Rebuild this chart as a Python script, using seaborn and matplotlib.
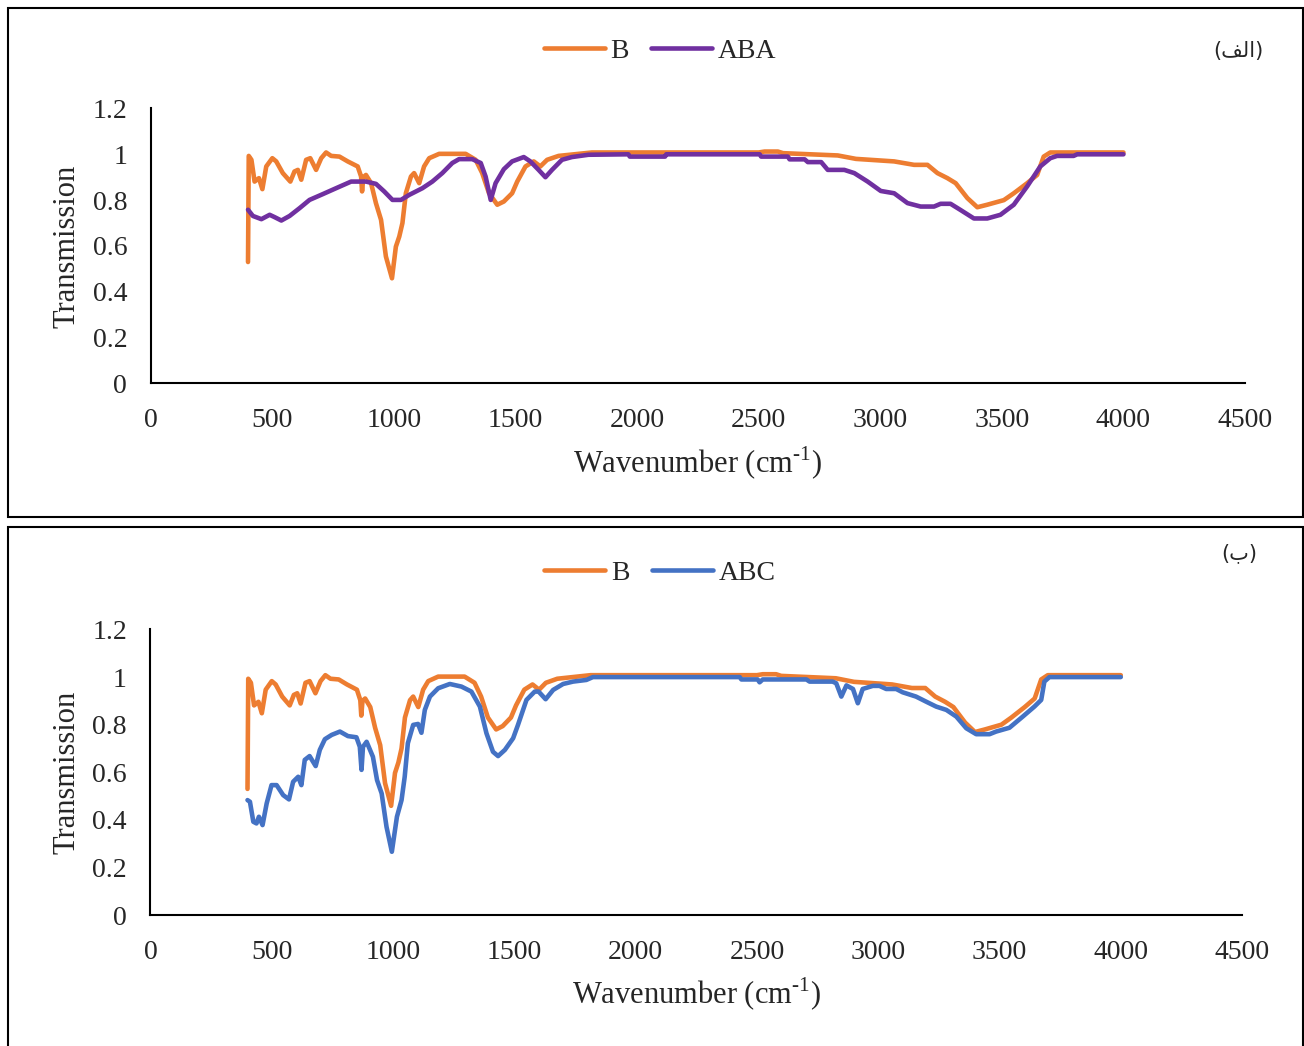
import numpy as np
import pandas as pd
import matplotlib
matplotlib.use("Agg")
import matplotlib.pyplot as plt
from matplotlib.patches import Rectangle
import seaborn as sns

# FTIR spectra
b_wn = [400, 403, 414, 427, 445, 459, 475, 500, 516, 543, 574, 591, 605, 619, 639, 656, 680, 701,
        721, 742, 776, 810, 851, 865, 869, 874, 885, 906, 926, 947, 967, 992, 1008, 1022, 1035, 1049,
        1070, 1083, 1104, 1124, 1145, 1186, 1295, 1336, 1363, 1391, 1425, 1452, 1486, 1507, 1541,
        1575, 1602, 1630, 1677, 1814, 2500, 2524, 2579, 2600, 2825, 2900, 3057, 3139, 3194, 3235,
        3276, 3310, 3358, 3399, 3440, 3508, 3549, 3604, 3645, 3672, 3699, 4000]
b_tr = [0.53, 0.993, 0.976, 0.881, 0.896, 0.848, 0.947, 0.983, 0.969, 0.918, 0.881, 0.925, 0.932,
        0.889, 0.976, 0.983, 0.932, 0.983, 1.008, 0.993, 0.99, 0.969, 0.947, 0.903, 0.838, 0.90,
        0.91, 0.874, 0.787, 0.714, 0.554, 0.459, 0.597, 0.641, 0.70, 0.83, 0.903, 0.918, 0.874,
        0.947, 0.983, 1.002, 1.002, 0.976, 0.918, 0.83, 0.78, 0.794, 0.83, 0.881, 0.947, 0.969,
        0.947, 0.976, 0.993, 1.008, 1.008, 1.012, 1.012, 1.005, 0.995, 0.98, 0.969, 0.954, 0.954,
        0.918, 0.896, 0.874, 0.809, 0.769, 0.78, 0.80, 0.83, 0.874, 0.91, 0.99, 1.008, 1.008]

aba_wn = [400, 420, 455, 489, 509, 537, 571, 612, 653, 707, 762, 824, 885, 926, 960, 994, 1029,
          1063, 1117, 1158, 1199, 1240, 1268, 1322, 1357, 1377, 1398, 1418, 1452, 1486, 1534, 1561,
          1595, 1623, 1650, 1691, 1732, 1800, 1964, 1970, 2115, 2120, 2504, 2510, 2620, 2627, 2689,
          2702, 2757, 2784, 2852, 2893, 2948, 3002, 3057, 3112, 3166, 3221, 3248, 3289, 3330, 3385,
          3440, 3494, 3549, 3604, 3658, 3699, 3727, 3795, 3810, 4000]
aba_tr = [0.758, 0.731, 0.717, 0.736, 0.726, 0.711, 0.731, 0.765, 0.801, 0.826, 0.852, 0.881,
          0.881, 0.871, 0.838, 0.801, 0.801, 0.823, 0.852, 0.881, 0.918, 0.962, 0.979, 0.979,
          0.962, 0.903, 0.801, 0.874, 0.935, 0.969, 0.988, 0.969, 0.932, 0.90, 0.932, 0.976,
          0.988, 0.998, 1.0, 0.99, 0.99, 1.0, 1.0, 0.99, 0.99, 0.978, 0.978, 0.966, 0.966, 0.932,
          0.932, 0.918, 0.881, 0.84, 0.83, 0.787, 0.772, 0.772, 0.784, 0.784, 0.757, 0.72, 0.72,
          0.736, 0.78, 0.86, 0.947, 0.983, 0.993, 0.993, 1.0, 1.0]

abc_wn = [400, 410, 424, 437, 447, 462, 479, 499, 520, 547, 571, 588, 609, 622, 636, 656, 681, 698,
          719, 747, 781, 814, 849, 863, 870, 876, 891, 917, 934, 953, 973, 995, 1016, 1035, 1048,
          1061, 1083, 1103, 1117, 1131, 1152, 1186, 1234, 1282, 1323, 1358, 1385, 1412, 1433, 1461,
          1495, 1515, 1550, 1584, 1600, 1629, 1660, 1701, 1742, 1797, 1824, 2429, 2436, 2503, 2511,
          2524, 2704, 2717, 2812, 2827, 2848, 2869, 2896, 2916, 2936, 2978, 3005, 3033, 3074, 3101,
          3156, 3197, 3239, 3281, 3322, 3363, 3404, 3459, 3486, 3541, 3596, 3644, 3672, 3685, 3706,
          4000]
abc_tr = [0.483, 0.476, 0.392, 0.385, 0.413, 0.378, 0.469, 0.546, 0.546, 0.504, 0.486, 0.56,
          0.581, 0.546, 0.652, 0.668, 0.626, 0.694, 0.739, 0.757, 0.771, 0.752, 0.747, 0.707,
          0.61, 0.707, 0.728, 0.665, 0.567, 0.511, 0.371, 0.266, 0.413, 0.483, 0.581, 0.722,
          0.799, 0.803, 0.766, 0.862, 0.918, 0.953, 0.971, 0.96, 0.939, 0.876, 0.764, 0.686,
          0.668, 0.694, 0.743, 0.799, 0.904, 0.939, 0.939, 0.907, 0.946, 0.971, 0.981, 0.988,
          1.0, 1.0, 0.99, 0.99, 0.978, 0.99, 0.99, 0.981, 0.981, 0.974, 0.918, 0.965, 0.95, 0.89,
          0.95, 0.963, 0.963, 0.95, 0.95, 0.936, 0.918, 0.897, 0.876, 0.862, 0.834, 0.785, 0.76,
          0.76, 0.771, 0.787, 0.834, 0.876, 0.904, 0.981, 1.0, 1.0]

x_ticks = [0, 500, 1000, 1500, 2000, 2500, 3000, 3500, 4000, 4500]
y_ticks = [0, 0.2, 0.4, 0.6, 0.8, 1.0, 1.2]
y_labels = ["0", "0.2", "0.4", "0.6", "0.8", "1", "1.2"]

colors = {"B": "#ED7D31", "ABA": "#7030A0", "ABC": "#4472C4"}

sns.set_style("white")
plt.rcParams['font.family'] = ['Liberation Serif', 'DejaVu Sans']
plt.rcParams['mathtext.fontset'] = 'custom'
plt.rcParams['mathtext.rm'] = 'Liberation Serif'

fig = plt.figure(figsize=(13.04, 10.46), dpi=100)

# panel frames
fig.add_artist(Rectangle((0.0061, 0.5057), 0.993, 0.4866, transform=fig.transFigure,
                         fill=False, lw=1.5, ec='black'))
fig.add_artist(Rectangle((0.0061, -0.01), 0.993, 0.5062, transform=fig.transFigure,
                         fill=False, lw=1.5, ec='black'))

ax1 = fig.add_axes([0.1156, 0.6334, 0.8392, 0.2629])
ax2 = fig.add_axes([0.1154, 0.1252, 0.8371, 0.2730])

df_b = pd.DataFrame({"wn": b_wn, "tr": b_tr})
df_aba = pd.DataFrame({"wn": aba_wn, "tr": aba_tr})
df_abc = pd.DataFrame({"wn": abc_wn, "tr": abc_tr})

panels = [(ax1, df_aba, "ABA", 0.951, "(\ufed2\ufedf\ufe8d)", 0.951),
          (ax2, df_abc, "ABC", 0.452, "(\ufe8f)", 0.471)]

for ax, df_s, name, leg_y, tag, tag_y in panels:
    sns.lineplot(data=df_b, x="wn", y="tr", ax=ax, color=colors["B"], lw=3.3,
                 estimator=None, sort=False, label="B")
    sns.lineplot(data=df_s, x="wn", y="tr", ax=ax, color=colors[name], lw=3.3,
                 estimator=None, sort=False, label=name)
    ax.set_xlim(0, 4500)
    ax.set_ylim(0, 1.2)
    ax.set_xticks(x_ticks)
    ax.set_yticks(y_ticks)
    ax.set_yticklabels(y_labels)
    ax.tick_params(axis='both', length=0, labelsize=20)
    ax.tick_params(axis='y', pad=17)
    ax.tick_params(axis='x', pad=18)
    for side in ['top', 'right']:
        ax.spines[side].set_visible(False)
    for side in ['left', 'bottom']:
        ax.spines[side].set_color('black')
        ax.spines[side].set_linewidth(1.5)
    ax.set_xlabel("Wavenumber (cm$^{\\mathregular{\u2010}1}$)", fontsize=22, labelpad=8)
    ax.set_ylabel("Transmission", fontsize=22, labelpad=8)
    ax.legend(loc='center', bbox_to_anchor=(0.506, leg_y), bbox_transform=fig.transFigure,
              ncol=2, frameon=False, fontsize=20, handlelength=2.2, handletextpad=0.2,
              columnspacing=0.8)
    fig.text(0.950, tag_y, tag, family=['DejaVu Sans'], fontsize=15, ha='center', va='center')

plt.savefig('out.png', dpi=100)
